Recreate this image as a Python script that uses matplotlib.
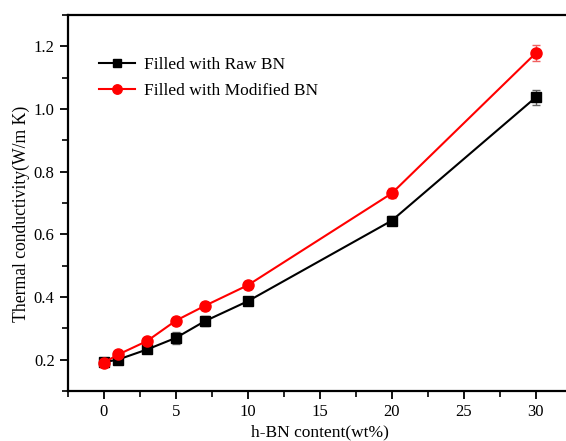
import matplotlib
matplotlib.use("Agg")
import matplotlib.pyplot as plt
from matplotlib.ticker import MultipleLocator

# h-BN loading (wt%)
content = [0, 1, 3, 5, 7, 10, 20, 30]

# thermal conductivity, W/m K
raw_bn = [0.192, 0.201, 0.233, 0.270, 0.323, 0.387, 0.644, 1.037]
raw_err = [0.006, 0.008, 0.012, 0.020, 0.016, 0.012, 0.015, 0.025]
mod_bn = [0.191, 0.217, 0.260, 0.325, 0.372, 0.438, 0.731, 1.178]
mod_err = [0.006, 0.008, 0.010, 0.012, 0.014, 0.012, 0.016, 0.025]

plt.rcParams['font.family'] = ['Liberation Serif', 'DejaVu Serif']

fig = plt.figure(figsize=(5.66, 4.41), dpi=100)
ax = fig.add_axes([0.120, 0.113, 0.890, 0.853])

# error bars first, then lines+markers on top (keeps legend clean)
ax.errorbar(content, raw_bn, yerr=raw_err, fmt='none', ecolor='#666666',
            elinewidth=1, capsize=3)
ax.errorbar(content, mod_bn, yerr=mod_err, fmt='none', ecolor='#f06060',
            elinewidth=1, capsize=3)
ax.plot(content, raw_bn, color='black', marker='s', ms=7, lw=1.5,
        label='Filled with Raw BN')
ax.plot(content, mod_bn, color='red', marker='o', ms=8, lw=1.5,
        label='Filled with Modified BN')

ax.set_xlim(-2.5, 32.5)
ax.set_ylim(0.1, 1.3)
ax.xaxis.set_major_locator(MultipleLocator(5))
ax.xaxis.set_minor_locator(MultipleLocator(2.5))
ax.yaxis.set_major_locator(MultipleLocator(0.2))
ax.yaxis.set_minor_locator(MultipleLocator(0.1))
ax.yaxis.set_major_formatter(matplotlib.ticker.FormatStrFormatter('%.1f'))

ax.tick_params(which='major', direction='out', length=6, width=1.3, labelsize=12,
               top=False, right=False)
ax.tick_params(which='minor', direction='out', length=4, width=1.2,
               top=False, right=False)
for side in ['left', 'bottom', 'top']:
    ax.spines[side].set_linewidth(1.6)
ax.spines['right'].set_visible(False)

ax.set_xlabel('h-BN content(wt%)', fontsize=12.5, va='center')
ax.xaxis.set_label_coords(0.5, -0.11)
ax.set_ylabel('Thermal conductivity(W/m K)', fontsize=12.7, va='center')
ax.yaxis.set_label_coords(-0.092, 0.47)

ax.legend(loc='upper left', bbox_to_anchor=(0.03, 0.93), frameon=False,
          fontsize=12.5, handlelength=2.1, labelspacing=0.55, markerscale=0.85,
          handletextpad=0.5)

fig.savefig('out.png', dpi=100)
